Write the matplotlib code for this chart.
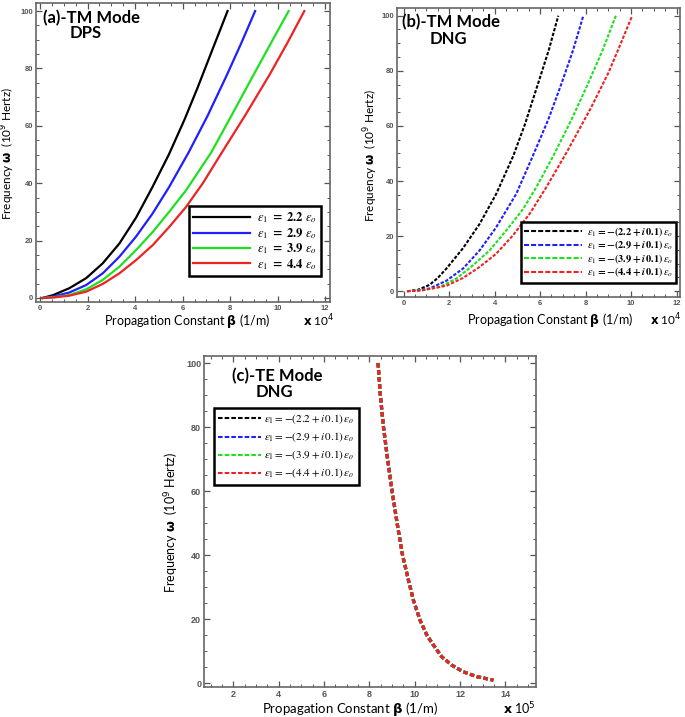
import numpy as np
import matplotlib
matplotlib.use("Agg")
import matplotlib.pyplot as plt
from matplotlib.ticker import MultipleLocator, AutoMinorLocator
from matplotlib.font_manager import FontProperties

# ---- data ----
colors = ['black', '#1f1fff', '#1fe01f', '#ee2222']
eps = ['2.2', '2.9', '3.9', '4.4']

# (a) TM mode, DPS
a_x = [
    [0.11, 0.55, 1.23, 1.94, 2.64, 3.34, 4.04, 4.72, 5.42, 6.07, 6.62, 7.25, 7.89],
    [0.11, 0.60, 1.23, 1.94, 2.64, 3.34, 4.04, 4.74, 5.44, 6.25, 7.05, 7.86, 8.45, 9.05],
    [0.11, 0.60, 1.23, 1.94, 2.64, 3.34, 4.04, 4.75, 5.44, 6.15, 7.20, 8.05, 8.98, 9.72, 10.46],
    [0.11, 0.60, 1.23, 1.94, 2.64, 3.34, 4.04, 4.75, 5.44, 6.15, 6.85, 7.65, 8.62, 9.65, 10.40, 11.12],
]
a_y = [
    [0, 1.0, 3.4, 6.9, 12.1, 19.0, 28.0, 38.5, 50.0, 62.0, 73.1, 86.5, 100],
    [0, 0.6, 1.9, 4.5, 8.6, 14.4, 21.4, 29.5, 38.8, 50.7, 63.5, 77.7, 88.5, 100],
    [0, 0.3, 1.0, 3.0, 6.3, 10.9, 16.7, 23.1, 30.1, 37.6, 50.7, 63.5, 77.7, 88.9, 100],
    [0, 0.2, 0.8, 2.2, 4.9, 8.6, 13.2, 18.5, 24.8, 31.8, 40.0, 50.7, 63.5, 77.7, 88.8, 100],
]

# (b) TM mode, DNG
b_x = [
    [0.15, 0.60, 1.14, 1.50, 1.88, 2.61, 3.34, 4.07, 4.82, 5.33, 5.92, 6.38, 6.80],
    [0.15, 0.60, 1.14, 1.88, 2.61, 3.34, 4.07, 4.95, 5.68, 6.36, 6.95, 7.45, 7.90],
    [0.15, 0.80, 1.58, 2.32, 3.05, 3.78, 4.51, 5.25, 5.83, 6.58, 7.38, 8.12, 8.75, 9.33],
    [0.15, 0.80, 1.88, 2.61, 3.34, 4.07, 4.80, 5.54, 6.27, 7.16, 8.20, 9.00, 9.55, 10.05],
]
b_y = [
    [0, 0.4, 2.3, 4.8, 8.2, 15.6, 24.4, 35.3, 49.1, 60.5, 75.6, 87.5, 100],
    [0, 0.3, 1.0, 3.8, 8.2, 14.8, 23.2, 35.3, 49.1, 62.3, 75.6, 87.5, 100],
    [0, 0.3, 1.5, 4.6, 9.4, 14.8, 22.0, 29.8, 37.7, 49.1, 62.3, 75.6, 87.5, 100],
    [0, 0.3, 2.0, 4.8, 8.8, 13.6, 20.2, 28.1, 37.7, 50.3, 66.0, 79.2, 90.0, 100],
]

# (c) TE mode, DNG - all four curves coincide
c_x = [8.38, 8.48, 8.62, 8.80, 9.00, 9.22, 9.46, 9.72, 9.94, 10.23, 10.53, 10.82,
       11.19, 11.63, 12.14, 12.73, 13.47]
c_y = [100, 90, 80, 70, 60, 50, 40, 32.2, 25.9, 19.7, 15.0, 11.9, 8.2, 5.6, 3.5, 2.0, 0.9]

W, H = 685, 717
fig = plt.figure(figsize=(W / 100, H / 100), dpi=100)


def px(x, y):
    return x / W, 1 - y / H


def box(l, t, r, b):
    return [l / W, 1 - b / H, (r - l) / W, (b - t) / H]


txt_font = ['Lato', 'DejaVu Sans']


def style_axes(ax, xlim, ylim, xmaj, tsize):
    ax.set_xlim(*xlim)
    ax.set_ylim(*ylim)
    ax.xaxis.set_major_locator(MultipleLocator(xmaj))
    ax.yaxis.set_major_locator(MultipleLocator(20))
    ax.xaxis.set_minor_locator(AutoMinorLocator(4))
    ax.yaxis.set_minor_locator(AutoMinorLocator(4))
    ax.tick_params(which='both', direction='in', top=True, right=True,
                   colors='#555555', labelsize=tsize, labelcolor='#555555', pad=2)
    ax.tick_params(which='major', length=4, width=0.9)
    ax.tick_params(which='minor', length=2, width=0.7)
    for lab in ax.get_xticklabels() + ax.get_yticklabels():
        lab.set_family('Liberation Sans')
        lab.set_fontweight('bold')
    for s in ax.spines.values():
        s.set_color('#666666')
        s.set_linewidth(1.2)


def labels(ylab_xy, xlab_xy, exp_xy, exp, size):
    fig.text(*px(*ylab_xy), r'Frequency $\mathbf{\omega}$  (10$^{9}$ Hertz)',
             rotation=90, ha='center', va='center', fontsize=size, family=txt_font)
    fig.text(*px(*xlab_xy), r'Propagation Constant $\mathbf{\beta}$ (1/m)',
             ha='center', va='center', fontsize=size + 0.5, family=txt_font)
    fig.text(*px(*exp_xy), r'$\mathbf{x}$ 10$^{%d}$' % exp,
             ha='center', va='center', fontsize=size, family=txt_font)


def titles(l1, p1, l2, p2, size):
    fig.text(*px(*p1), l1, ha='left', va='center', fontsize=size,
             fontweight='bold', family=txt_font)
    fig.text(*px(*p2), l2, ha='left', va='center', fontsize=size,
             fontweight='bold', family=txt_font)


def frame_legend(leg, dashes=None):
    leg.get_frame().set_linewidth(1.8)
    if dashes is not None:
        for ln in leg.get_lines():
            ln.set_dashes(dashes)


# ---- (a) ----
ax1 = fig.add_axes(box(36, 3, 330, 302))
for xs, ys, c, e in zip(a_x, a_y, colors, eps):
    ax1.plot(xs, ys, color=c, lw=1.6,
             label=r'$\boldsymbol{\varepsilon_1}\mathbf{\ =\ %s}\ \boldsymbol{\varepsilon_o}$' % e)
style_axes(ax1, (-0.17, 12.2), (-1.4, 102.8), 2, 5.5)
frame_legend(ax1.legend(loc='lower right', bbox_to_anchor=(0.969, 0.087), borderaxespad=0,
                        prop=FontProperties(size=9, math_fontfamily='stix'),
                        handlelength=4.6, labelspacing=0.05, fancybox=False,
                        framealpha=1, edgecolor='black', borderpad=0.35, handletextpad=0.5))
titles('(a)-TM Mode', (43, 18), 'DPS', (70, 33), 12)
labels((8, 153), (187, 321), (319, 321), 4, 8.5)

# ---- (b) ----
ax2 = fig.add_axes(box(397, 8, 680, 297))
for xs, ys, c, e in zip(b_x, b_y, colors, eps):
    ax2.plot(xs, ys, color=c, lw=1.5, dashes=(1.6, 0.8),
             label=r'$\boldsymbol{\varepsilon_1}\mathbf{=-(%s+}\boldsymbol{i}\,\mathbf{0.1)}\,\boldsymbol{\varepsilon_o}$' % e)
style_axes(ax2, (-0.29, 12.15), (-2.1, 102.8), 2, 5.5)
frame_legend(ax2.legend(loc='lower right', bbox_to_anchor=(0.986, 0.05), borderaxespad=0,
                        prop=FontProperties(size=7.5, math_fontfamily='stix'),
                        handlelength=5.6, labelspacing=0.0, fancybox=False,
                        framealpha=1, edgecolor='black', borderpad=0.3, handletextpad=0.4),
             dashes=(2.4, 1.0))
titles('(b)-TM Mode', (402, 22.5), 'DNG', (430, 38.5), 12)
labels((371, 155), (550, 320), (666, 320), 4, 8.5)

# ---- (c) ----
ax3 = fig.add_axes(box(204, 356, 536, 687))
handles = []
for c, e in zip(colors, eps):
    ax3.plot(c_x, c_y, color=c, lw=2.3, dashes=(1.4, 0.8))
    h, = ax3.plot([], [], color=c, lw=1.5, dashes=(2.2, 1.0),
                  label=r'$\varepsilon_1 = -(%s + i\,0.1)\,\varepsilon_o$' % e)
    handles.append(h)
style_axes(ax3, (0.7, 15.35), (-1.25, 102.2), 2, 6.5)
frame_legend(ax3.legend(handles=handles, loc='upper left', bbox_to_anchor=(0.03, 0.843),
                        borderaxespad=0, prop=FontProperties(size=8, math_fontfamily='stix'),
                        handlelength=3.8, labelspacing=0.38, fancybox=False,
                        framealpha=1, edgecolor='black', borderpad=0.4, handletextpad=0.3))
titles('(c)-TE Mode', (232, 376), 'DNG', (256, 392), 12)
labels((172, 522), (350, 709), (519, 709), 5, 9)

fig.savefig('out.png', dpi=100)
